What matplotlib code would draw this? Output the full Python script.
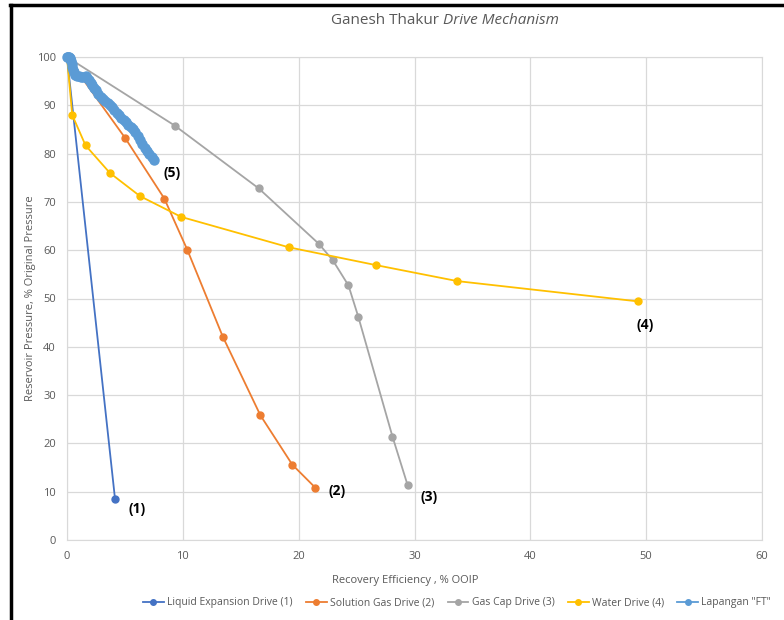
import matplotlib.pyplot as plt
from matplotlib.lines import Line2D

plt.rcParams['font.family'] = ['Open Sans', 'DejaVu Sans']

# (1) Liquid expansion drive
liq_x = [0, 4.15]
liq_y = [100, 8.4]

# (2) Solution gas drive
sol_x = [0, 5.0, 8.4, 10.4, 13.45, 16.7, 19.45, 21.45]
sol_y = [100, 83.3, 70.7, 60.0, 42.1, 25.8, 15.6, 10.8]

# (3) Gas cap drive
gas_x = [0, 9.3, 16.55, 21.75, 22.95, 24.3, 25.15, 28.1, 29.4]
gas_y = [100, 85.8, 72.8, 61.3, 57.9, 52.7, 46.2, 21.4, 11.4]

# (4) Water drive
wat_x = [0, 0.45, 1.6, 3.7, 6.3, 9.85, 19.15, 26.7, 33.7, 49.3]
wat_y = [100, 88.0, 81.7, 76.0, 71.2, 66.9, 60.6, 56.9, 53.6, 49.4]

# (5) Lapangan "FT"
ft_x = [0, 0.05, 0.1, 0.15, 0.2, 0.25, 0.3, 0.35, 0.4, 0.45, 0.5, 0.6, 0.7, 0.85,
        1.0, 1.2, 1.4, 1.6, 1.75, 1.9, 2.05, 2.2, 2.35, 2.5, 2.7, 2.9, 3.1, 3.3,
        3.5, 3.7, 3.9, 4.1, 4.3, 4.5, 4.7, 4.9, 5.1, 5.3, 5.5, 5.7, 5.9, 6.1, 6.3,
        6.5, 6.7, 6.9, 7.1, 7.3, 7.5]
ft_y = [100, 100, 100, 99.9, 99.8, 99.7, 99.6, 99.2, 98.6, 98.0, 97.4, 96.8, 96.3, 96.0,
        96.0, 95.9, 95.9, 96.0, 95.6, 95.2, 94.7, 94.2, 93.6, 93.1, 92.35, 91.7, 91.3, 90.9,
        90.5, 90.1, 89.55, 89.0, 88.45, 87.9, 87.4, 86.9, 86.45, 86.0, 85.5, 85.0, 84.45, 83.7, 82.8,
        81.9, 81.1, 80.5, 79.85, 79.2, 78.6]

labels = ["(1)", "(2)", "(3)", "(4)", "(5)"]
label_xy = [(6.05, 6.4), (23.3, 10.2), (31.3, 8.8), (49.9, 44.6), (9.1, 76.0)]

series_names = ['Liquid Expansion Drive (1)', 'Solution Gas Drive (2)',
                'Gas Cap Drive (3)', 'Water Drive (4)', 'Lapangan "FT"']
colors = ['#4472C4', '#ED7D31', '#A5A5A5', '#FFC000', '#5B9BD5']

fig = plt.figure(figsize=(7.84, 6.2), dpi=100)
ax = fig.add_axes([67 / 784, 1 - 540 / 620, (762 - 67) / 784, (540 - 57) / 620])

thin = [(liq_x, liq_y), (sol_x, sol_y), (gas_x, gas_y), (wat_x, wat_y)]
for (xs, ys), c in zip(thin, colors[:4]):
    ax.plot(xs, ys, color=c, lw=1.3, marker='o', ms=5, clip_on=False, zorder=3)
ax.plot(ft_x, ft_y, color=colors[4], lw=4.5, marker='o', ms=6.5, clip_on=False,
        zorder=4)

for t, (x, y) in zip(labels, label_xy):
    ax.text(x, y, t, ha='center', va='center', fontsize=10, fontweight='bold',
            color='black')

ax.set_xlim(0, 60)
ax.set_ylim(0, 100)
ax.set_xticks(range(0, 61, 10))
ax.set_yticks(range(0, 101, 10))
ax.grid(True, color='#D9D9D9', lw=0.9)
ax.set_axisbelow(True)
for s in ax.spines.values():
    s.set_color('#D9D9D9')
ax.tick_params(length=0, labelsize=8, colors='#595959', pad=8)

fig.text(443 / 784, 1 - 21 / 620, 'Ganesh Thakur ', ha='right', va='center',
         fontsize=11, color='#595959')
fig.text(443 / 784, 1 - 21 / 620, 'Drive Mechanism', ha='left', va='center',
         fontsize=11, color='#595959', style='italic')
fig.text(405 / 784, 1 - 581 / 620, 'Recovery Efficiency , % OOIP', ha='center',
         va='center', fontsize=8, color='#595959')
fig.text(31 / 784, 1 - 298 / 620, 'Reservoir Pressure, % Original Pressure',
         ha='center', va='center', rotation=90, fontsize=8, color='#595959')

handles = [Line2D([], [], color=c, lw=1.3, marker='o', ms=4) for c in colors]
fig.legend(handles, series_names, loc='center',
           bbox_to_anchor=(457 / 784, 1 - 603 / 620), ncol=5, frameon=False,
           fontsize=7.5, handlelength=2.0, handletextpad=0.3, columnspacing=1.3,
           labelcolor='#595959')

# black frame on the top and left edges
fig.add_artist(Line2D([10 / 784, 1], [1 - 5 / 620, 1 - 5 / 620], color='black',
                      lw=2.5, transform=fig.transFigure))
fig.add_artist(Line2D([11 / 784, 11 / 784], [0, 1 - 5 / 620], color='black',
                      lw=2.5, transform=fig.transFigure))

fig.savefig('out.png', dpi=100)
